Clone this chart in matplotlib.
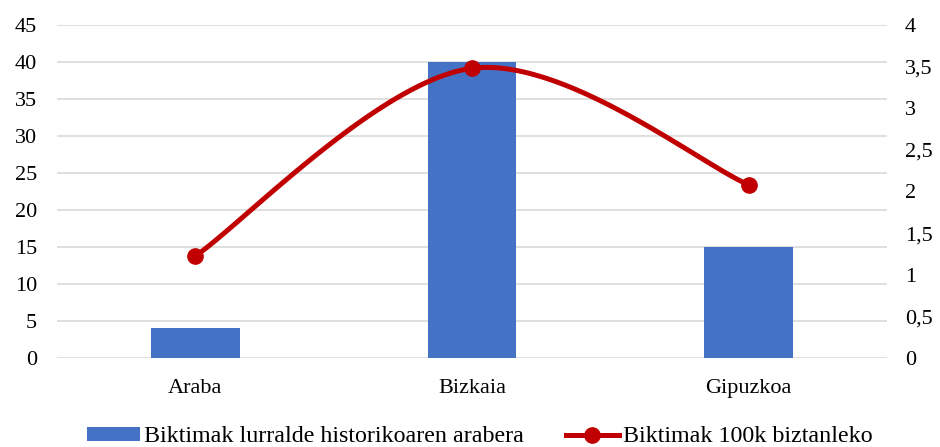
import numpy as np
import matplotlib
matplotlib.use("Agg")
import matplotlib.pyplot as plt
from matplotlib.ticker import FuncFormatter
from matplotlib.lines import Line2D
from matplotlib.patches import Patch

categories = ["Araba", "Bizkaia", "Gipuzkoa"]
victims = [4, 40, 15]
per_100k = [1.225, 3.48, 2.08]
bar_label = "Biktimak lurralde historikoaren arabera"
line_label = "Biktimak 100k biztanleko"

plt.rcParams['font.family'] = ['Liberation Serif', 'DejaVu Serif']
FS = 16
LFS = 17.3
BLUE = "#4472C4"
RED = "#C00000"
GRID = "#D9D9D9"

fig = plt.figure(figsize=(9.4, 4.47), dpi=100)
ax = fig.add_axes([57/940, 1-358/447, (887-57)/940, (358-25)/447])
ax2 = ax.twinx()

x = np.arange(len(categories))
ax.bar(x, victims, width=0.32, color=BLUE, zorder=2)
ax.set_xlim(-0.5, len(categories)-0.5)
ax.set_ylim(0, 45)
ax.set_yticks(np.arange(0, 46, 5))
ax.set_xticks(x)
ax.set_xticklabels(categories, fontsize=FS)
ax.yaxis.grid(True, color=GRID, lw=1.2, zorder=0)
ax.set_axisbelow(True)
ax.tick_params(axis='both', length=0, labelsize=FS, colors="#000000")
ax.tick_params(axis='x', pad=15)
ax.tick_params(axis='y', pad=14.4)
for s in ax.spines.values():
    s.set_visible(False)

# Excel-like smoothed line (Catmull-Rom as cubic Bezier)
xs = list(x.astype(float))
ys = list(per_100k)
P = [(xs[0], ys[0])] + list(zip(xs, ys)) + [(xs[-1], ys[-1])]
cx, cy = [], []
t = np.linspace(0, 1, 60)
for i in range(1, len(P)-2):
    p0, p1, p2, p3 = [np.array(p) for p in P[i-1:i+3]]
    c1 = p1 + (p2 - p0) / 6
    c2 = p2 - (p3 - p1) / 6
    pts = ((1-t)**3)[:, None]*p1 + (3*(1-t)**2*t)[:, None]*c1 + (3*(1-t)*t**2)[:, None]*c2 + (t**3)[:, None]*p2
    cx.extend(pts[:, 0]); cy.extend(pts[:, 1])
ax2.plot(cx, cy, color=RED, lw=3.6, solid_capstyle='round', zorder=3)
ax2.plot(xs, ys, 'o', color=RED, ms=11, zorder=4)
ax2.set_ylim(0, 4)
ax2.set_yticks(np.arange(0, 4.01, 0.5))
ax2.yaxis.set_major_formatter(FuncFormatter(lambda v, p: (f"{v:g}").replace('.', ',')))
ax2.tick_params(axis='y', length=0, labelsize=FS, pad=13)
for s in ax2.spines.values():
    s.set_visible(False)

handles = [Patch(facecolor=BLUE, edgecolor='none'),
           Line2D([0], [0], color=RED, lw=3.6, marker='o', ms=11)]
fig.legend(handles, [bar_label, line_label], loc='center', bbox_to_anchor=(480/940, 1-437/447),
           ncol=2, frameon=False, fontsize=LFS, handlelength=2.2, handleheight=0.5,
           handletextpad=0.17, columnspacing=1.74, borderaxespad=0, borderpad=0)

fig.savefig("out.png", dpi=100)
